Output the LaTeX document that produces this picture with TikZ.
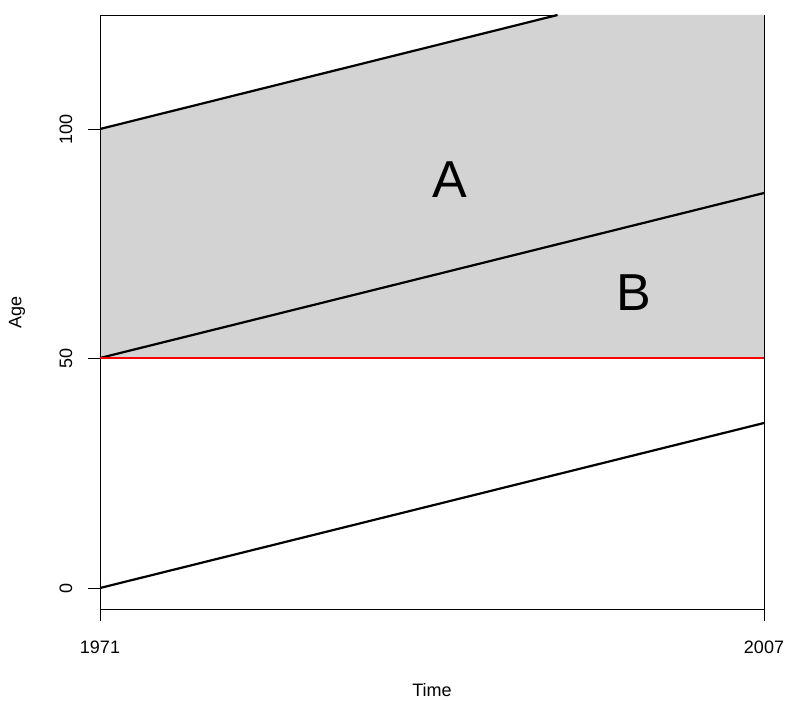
\documentclass[tikz,border=0pt]{standalone}
\usepackage{fontspec}
\setmainfont{Liberation Sans}
\definecolor{fillgray}{RGB}{211,211,211}
\begin{document}
\begin{tikzpicture}[x=1pt,y=-1pt,
  dataline/.style={line width=2.2pt,black},
  frame/.style={line width=0.9pt,black},
  ticklab/.style={font=\fontsize{18}{21}\selectfont,inner sep=0pt},
  biglab/.style={font=\fontsize{52}{60}\selectfont,inner sep=0pt}]
\useasboundingbox (0,0) rectangle (785,701);
% plot frame top
\draw[frame] (100,15) -- (764,15);
% shaded region
\fill[fillgray] (100,358) -- (100,129) -- (557.5,15) -- (764,15) -- (764,358) -- cycle;
% frame rest
\draw[frame] (100,15) -- (100,609) -- (764,609) -- (764,15);
% data lines
\coordinate (l0) at (100,588); \coordinate (r0) at (764,423);
\coordinate (l50) at (100,358); \coordinate (r50) at (764,193);
\coordinate (l100) at (100,129); \coordinate (t100) at (557.5,15);
\coordinate (redR) at (764,358);
\draw[dataline] (l0) -- (r0);
\draw[dataline] (l50) -- (r50);
\draw[dataline] (l100) -- (t100);
\draw[red,line width=1.9pt] (l50) -- (redR);
% y ticks
\foreach \yy/\lab in {588/0,358/50,129/100}{
  \draw[frame] (88,\yy) -- (100,\yy);
  \node[ticklab,rotate=90] at (66,\yy) {\lab};
}
% x ticks
\foreach \xx/\lab in {100/1971,764/2007}{
  \draw[frame] (\xx,609) -- (\xx,621);
  \node[ticklab] at (\xx,647) {\lab};
}
\node[ticklab,rotate=90] (age) at (17,312) {Age};
\node[ticklab] (time) at (432,690) {Time};
\node[biglab] (A) at (450,180) {A};
\node[biglab] (B) at (634,293) {B};
\end{tikzpicture}
\end{document}
